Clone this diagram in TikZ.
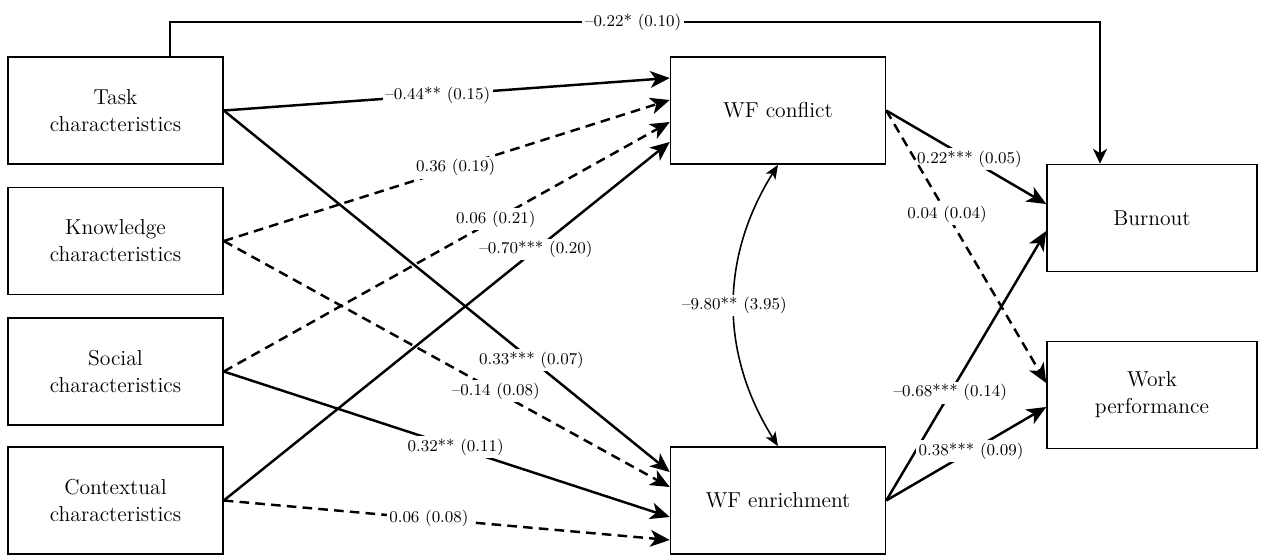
\documentclass[tikz,border=0pt]{standalone}
\usepackage{tikz}
\usetikzlibrary{arrows.meta}

\begin{document}
\begin{tikzpicture}[x=0.02cm,y=-0.02cm,
  box/.style={draw,line width=0.9pt,minimum width=4.3cm,minimum height=2.14cm,inner sep=0pt,align=center,font=\fontsize{12.3}{15.4}\selectfont},
  outbox/.style={box,minimum width=4.2cm},
  lbl/.style={fill=white,inner sep=1.5pt,font=\fontsize{9.4}{11}\selectfont},
  sig/.style={line width=1.4pt,-{Stealth[length=11pt,width=9.5pt,inset=3pt]}},
  ns/.style={sig,dash pattern=on 5.5pt off 3.5pt},
  thinarr/.style={line width=0.9pt,-{Stealth[length=8.5pt,width=8pt,inset=2.5pt]}}]
  \useasboundingbox (0,0) rectangle (1261,556);
  \foreach \n/\y/\t in {task/110.5/Task, kn/241/Knowledge, so/371.5/Social, co/500.5/Contextual}
    \node[box] (\n) at (115.5,\y) {\t\\characteristics};
  \node[box] (wfc) at (778,110.5) {WF conflict};
  \node[box] (wfe) at (778,500.5) {WF enrichment};
  \node[outbox] (bu) at (1152,218) {Burnout};
  \node[outbox] (wp) at (1152,395) {Work\\performance};

  \draw[thinarr] ([xshift=1.09cm]task.north) -- ++(0,-34) -| node[lbl,pos=0.249] {--0.22* (0.10)} ([xshift=-1.04cm]bu.north);

  \draw[sig] (task.east) -- node[lbl,pos=0.48] {--0.44** (0.15)} ([yshift=0.65cm]wfc.west);
  \draw[sig] (task.east) -- node[lbl,pos=0.69] {0.33*** (0.07)} ([yshift=0.57cm]wfe.west);
  \draw[ns] (kn.east) -- node[lbl,pos=0.52] {0.36 (0.19)} ([yshift=0.21cm]wfc.west);
  \draw[ns] (kn.east) -- node[lbl,pos=0.61] {--0.14 (0.08)} ([yshift=0.27cm]wfe.west);
  \draw[ns] (so.east) -- node[lbl,pos=0.61] {0.06 (0.21)} ([yshift=-0.23cm]wfc.west);
  \draw[sig] (so.east) -- node[lbl,pos=0.52] {0.32** (0.11)} ([yshift=-0.33cm]wfe.west);
  \draw[sig] (co.east) -- node[lbl,pos=0.70] {--0.70*** (0.20)} ([yshift=-0.63cm]wfc.west);
  \draw[ns] (co.east) -- node[lbl,pos=0.46] {0.06 (0.08)} ([yshift=-0.79cm]wfe.west);

  \draw[thinarr,{Stealth[length=8pt,width=6.5pt,inset=2pt]}-{Stealth[length=8pt,width=6.5pt,inset=2pt]}]
    (wfc.south) to[bend right=32] node[lbl] {--9.80** (3.95)} (wfe.north);

  \draw[sig] (wfc.east) -- node[lbl,pos=0.52] {0.22*** (0.05)} ([yshift=0.28cm]bu.west);
  \draw[ns] (wfc.east) -- node[lbl,pos=0.38] {0.04 (0.04)} ([yshift=0.24cm]wp.west);
  \draw[sig] (wfe.east) -- node[lbl,pos=0.40] {--0.68*** (0.14)} ([yshift=-0.26cm]bu.west);
  \draw[sig] (wfe.east) -- node[lbl,pos=0.53] {0.38*** (0.09)} ([yshift=-0.24cm]wp.west);
\end{tikzpicture}
\end{document}
